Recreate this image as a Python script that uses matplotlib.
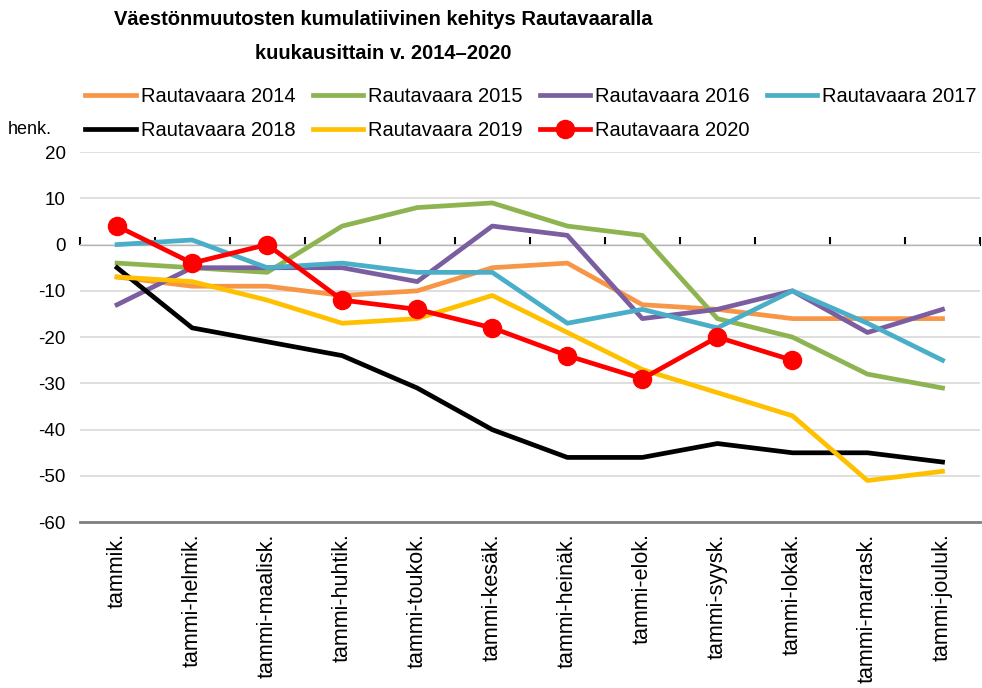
import numpy as np
import matplotlib.pyplot as plt

plt.rcParams['font.family'] = ['Liberation Sans', 'DejaVu Sans']
plt.rcParams['axes.unicode_minus'] = False

months = ['tammik.', 'tammi-helmik.', 'tammi-maalisk.', 'tammi-huhtik.', 'tammi-toukok.',
          'tammi-kesäk.', 'tammi-heinäk.', 'tammi-elok.', 'tammi-syysk.', 'tammi-lokak.',
          'tammi-marrask.', 'tammi-jouluk.']

r2014 = [-7, -9, -9, -11, -10, -5, -4, -13, -14, -16, -16, -16]
r2015 = [-4, -5, -6, 4, 8, 9, 4, 2, -16, -20, -28, -31]
r2016 = [-13, -5, -5, -5, -8, 4, 2, -16, -14, -10, -19, -14]
r2017 = [0, 1, -5, -4, -6, -6, -17, -14, -18, -10, -17, -25]
r2018 = [-5, -18, -21, -24, -31, -40, -46, -46, -43, -45, -45, -47]
r2019 = [-7, -8, -12, -17, -16, -11, -19, -27, -32, -37, -51, -49]
r2020 = [4, -4, 0, -12, -14, -18, -24, -29, -20, -25]

x = np.arange(len(months))

fig = plt.figure(figsize=(9.82, 6.88), dpi=100)
ax = fig.add_axes([0.081, 0.241, 0.917, 0.538])

lw = 3.4
l14, = ax.plot(x, r2014, color='#f79646', lw=lw, label='Rautavaara 2014')
l15, = ax.plot(x, r2015, color='#8db451', lw=lw, label='Rautavaara 2015')
l16, = ax.plot(x, r2016, color='#7b5ea0', lw=lw, label='Rautavaara 2016')
l17, = ax.plot(x, r2017, color='#4aaec8', lw=lw, label='Rautavaara 2017')
l18, = ax.plot(x, r2018, color='black', lw=lw, label='Rautavaara 2018')
l19, = ax.plot(x, r2019, color='#ffc000', lw=lw, label='Rautavaara 2019')
l20, = ax.plot(x[:len(r2020)], r2020, color='#ff0000', lw=lw, marker='o', ms=13,
               label='Rautavaara 2020')

ax.set_xlim(-0.5, len(months) - 0.5)
ax.set_ylim(-60, 20)
ax.set_yticks(np.arange(-60, 21, 10))
ax.yaxis.grid(True, color='#d9d9d9', lw=1.2)
ax.set_axisbelow(True)
ax.set_xticks(x)
ax.set_xticklabels(months, rotation=90, fontsize=15.5)
ax.tick_params(axis='x', length=0, pad=8)
ax.tick_params(axis='y', length=0, labelsize=13.5, pad=10)
for s in ['left', 'right', 'top']:
    ax.spines[s].set_visible(False)
ax.spines['bottom'].set_color('#7f7f7f')
ax.spines['bottom'].set_linewidth(2)

# horizontal axis crossing at zero, with tick marks between categories
sec = ax.secondary_xaxis(0.75)
sec.set_xticks(np.arange(-0.5, len(months), 1.0))
sec.set_xticklabels([])
sec.tick_params(direction='out', length=6, width=1.5, color='black')
sec.spines['bottom'].set_color('black')
sec.spines['bottom'].set_linewidth(1.5)

fig.text(0.39, 0.985, 'Väestönmuutosten kumulatiivinen kehitys Rautavaaralla\nkuukausittain v. 2014–2020',
         ha='center', va='top', fontsize=14.5, fontweight='bold', linespacing=2.0)
fig.text(0.008, 0.805, 'henk.', fontsize=13)

handles = [l14, l18, l15, l19, l16, l20, l17]
fig.legend(handles=handles, labels=[h.get_label() for h in handles], ncol=4,
           loc='upper left', bbox_to_anchor=(0.087, 0.874), frameon=False,
           fontsize=14.5, handlelength=2.5, handletextpad=0.25, columnspacing=0.85,
           labelspacing=0.75, borderpad=0, borderaxespad=0)

fig.savefig('out.png', dpi=100)
